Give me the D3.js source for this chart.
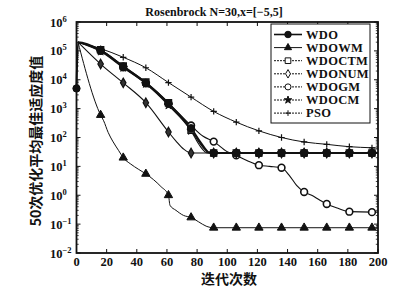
<!DOCTYPE html>
<html>
<head>
<meta charset="utf-8">
<script src="https://cdn.jsdelivr.net/npm/d3@7"></script>
<style>
  body { margin: 0; background: #fff; }
  svg { display: block; }
</style>
</head>
<body>
<div id="chart"></div>
<script>
// values: [iteration, mean best fitness]
const wdo = [[0, 5000], [1, 2.0e5], [16, 1.05e5], [31, 2.9e4], [46, 7.8e3], [61, 1.5e3], [76, 210], [83, 60], [88, 30],
  [91, 29], [106, 29], [121, 29], [136, 29], [151, 29], [166, 29], [181, 29], [196, 29], [200, 29]];
const wdowm = [[1, 2.0e5], [16, 600], [18, 380], [21, 150], [24, 75], [28, 35], [31, 20], [36, 12], [41, 8], [46, 5.5],
  [51, 3.5], [56, 2], [61, 1.0], [62, 0.45], [66, 0.3], [71, 0.2], [76, 0.17], [81, 0.12], [86, 0.085], [91, 0.075],
  [106, 0.075], [121, 0.075], [136, 0.075], [151, 0.075], [166, 0.075], [181, 0.075], [196, 0.075], [200, 0.075]];
const wdoctm = [[1, 2.0e5], [16, 1.1e5], [31, 3.0e4], [46, 8.3e3], [61, 1.6e3], [76, 180], [84, 45], [89, 29],
  [91, 29], [106, 29], [121, 29], [136, 29], [151, 29], [166, 29], [181, 29], [196, 29], [200, 29]];
const wdonum = [[1, 2.0e5], [16, 3.5e4], [31, 7.8e3], [46, 1.6e3], [61, 155], [66, 75], [71, 40], [76, 29],
  [91, 29], [106, 29], [121, 29], [136, 29], [151, 29], [166, 29], [181, 29], [196, 29], [200, 29]];
const wdogm = [[1, 2.0e5], [16, 1.0e5], [31, 2.7e4], [46, 7.5e3], [61, 1.5e3], [76, 260], [84, 110], [91, 72],
  [100, 32], [106, 24], [113, 16], [121, 11], [128, 10], [136, 9], [141, 5], [146, 2.2], [151, 1.3], [156, 1.0],
  [161, 0.7], [166, 0.5], [173, 0.36], [181, 0.27], [196, 0.26], [200, 0.26]];
const wdocm = [[1, 2.0e5], [16, 9.5e4], [31, 2.6e4], [46, 7.2e3], [61, 1.3e3], [76, 170], [82, 50], [87, 29],
  [91, 29], [106, 29], [121, 29], [136, 29], [151, 29], [166, 29], [181, 29], [196, 29], [200, 29]];
const pso = [[1, 2.0e5], [16, 1.2e5], [31, 6.0e4], [46, 2.6e4], [61, 8.0e3], [76, 2.5e3], [91, 800], [106, 340],
  [121, 170], [136, 100], [151, 70], [166, 58], [181, 48], [196, 44], [200, 43]];

const markerIters = [0, 16, 31, 46, 61, 76, 91, 106, 121, 136, 151, 166, 181, 196];
const seriesNames = ["WDO", "WDOWM", "WDOCTM", "WDONUM", "WDOGM", "WDOCM", "PSO"];
const xTicks = [0, 20, 40, 60, 80, 100, 120, 140, 160, 180, 200];
const yExps = [-2, -1, 0, 1, 2, 3, 4, 5, 6];

const W = 395, H = 292;
const margin = {top: 22, right: 17, bottom: 39, left: 76.5};
const ink = "#111";
const serif = "'Liberation Serif', 'DejaVu Serif', serif";
const cjk = "'Noto Sans CJK SC', sans-serif";

const plus = {draw(ctx, size) { const r = Math.sqrt(size) / 2;
  ctx.moveTo(-r, 0); ctx.lineTo(r, 0); ctx.moveTo(0, -r); ctx.lineTo(0, r); }};

const styles = {
  WDO:    {data: wdo,    width: 2,   sym: d3.symbolCircle,   size: 42, fill: ink,    stroke: ink, sw: 1},
  WDOWM:  {data: wdowm,  width: 1,   sym: d3.symbolTriangle, size: 30, fill: ink,    stroke: ink, sw: 1},
  WDOCTM: {data: wdoctm, width: 1.1, sym: d3.symbolSquare,   size: 40, fill: "#444", stroke: ink, sw: 1.2},
  WDONUM: {data: wdonum, width: 1.1, sym: d3.symbolDiamond,  size: 26, fill: "#333", stroke: ink, sw: 1.2},
  WDOGM:  {data: wdogm,  width: 1.1, sym: d3.symbolCircle,   size: 36, fill: "#fff", stroke: ink, sw: 1.6},
  WDOCM:  {data: wdocm,  width: 1.1, sym: d3.symbolStar,     size: 22, fill: ink,    stroke: ink, sw: 0.8},
  PSO:    {data: pso,    width: 1,   sym: plus,              size: 40, fill: "none", stroke: ink, sw: 1.2}
};

const svg = d3.select("#chart").append("svg").attr("width", W).attr("height", H);

const x = d3.scaleLinear().domain([0, 200]).range([margin.left, W - margin.right]);
const y = d3.scaleLog().domain([1e-2, 1e6]).range([H - margin.bottom, margin.top]);

const x0 = x.range()[0], x1 = x.range()[1], yb = y.range()[0], yt = y.range()[1];

// minor and major ticks, inward on all four sides
const ticks = svg.append("g").attr("stroke", ink);
xTicks.forEach(t => {
  ticks.append("line").attr("x1", x(t)).attr("x2", x(t)).attr("y1", yb).attr("y2", yb - 4).attr("stroke-width", 1);
  ticks.append("line").attr("x1", x(t)).attr("x2", x(t)).attr("y1", yt).attr("y2", yt + 4).attr("stroke-width", 1);
});
yExps.forEach(e => {
  const v = Math.pow(10, e);
  ticks.append("line").attr("x1", x0).attr("x2", x0 + 4).attr("y1", y(v)).attr("y2", y(v)).attr("stroke-width", 1);
  ticks.append("line").attr("x1", x1).attr("x2", x1 - 4).attr("y1", y(v)).attr("y2", y(v)).attr("stroke-width", 1);
  if (e < 6) for (let k = 2; k < 10; k++) {
    const yy = y(k * v);
    ticks.append("line").attr("x1", x0).attr("x2", x0 + 2.2).attr("y1", yy).attr("y2", yy).attr("stroke-width", 0.8);
    ticks.append("line").attr("x1", x1).attr("x2", x1 - 2.2).attr("y1", yy).attr("y2", yy).attr("stroke-width", 0.8);
  }
});

// lines
const line = d3.line().x(d => x(d[0])).y(d => y(d[1])).curve(d3.curveMonotoneX);
const order = ["PSO", "WDOGM", "WDOCM", "WDONUM", "WDOCTM", "WDOWM", "WDO"];
order.forEach(n => {
  const s = styles[n];
  svg.append("path").datum(s.data).attr("d", line)
    .attr("fill", "none").attr("stroke", ink).attr("stroke-width", s.width).attr("stroke-linejoin", "round");
});

// markers
order.forEach(n => {
  const s = styles[n];
  svg.append("g").selectAll("path")
    .data(s.data.filter(d => markerIters.includes(d[0])))
    .join("path")
    .attr("transform", d => `translate(${x(d[0])},${y(d[1])})`)
    .attr("d", d3.symbol().type(s.sym).size(s.size))
    .attr("fill", s.fill).attr("stroke", s.stroke).attr("stroke-width", s.sw);
});

// frame
svg.append("rect").attr("x", x0).attr("y", yt).attr("width", x1 - x0).attr("height", yb - yt)
  .attr("fill", "none").attr("stroke", ink).attr("stroke-width", 1.8);

// tick labels
svg.append("g").selectAll("text").data(xTicks).join("text")
  .attr("x", d => x(d)).attr("y", yb + 12.5)
  .attr("text-anchor", "middle").attr("font-family", serif).attr("font-size", 12.5).attr("font-weight", "bold")
  .attr("fill", ink).text(d => d);

const yl = svg.append("g").selectAll("text").data(yExps).join("text")
  .attr("x", 50).attr("y", d => y(Math.pow(10, d)) + 4.5)
  .attr("font-family", serif).attr("font-size", 12.5).attr("font-weight", "bold").attr("fill", ink);
yl.append("tspan").text("10");
yl.append("tspan").attr("dy", -5).attr("font-size", 8.5).text(d => d < 0 ? "\u2212" + (-d) : d);

// title and axis labels
svg.append("text").attr("x", 214).attr("y", 16).attr("text-anchor", "middle")
  .attr("font-family", serif).attr("font-size", 12).attr("font-weight", "bold").attr("fill", ink)
  .text("Rosenbrock  N=30,x=[\u22125,5]");

svg.append("text").attr("x", 229).attr("y", 284).attr("text-anchor", "middle")
  .attr("font-family", cjk).attr("font-size", 14).attr("font-weight", "bold").attr("fill", ink)
  .text("迭代次数");

svg.append("text").attr("transform", "translate(41,141) rotate(-90)").attr("text-anchor", "middle")
  .attr("font-family", cjk).attr("font-size", 14).attr("font-weight", "bold").attr("fill", ink)
  .text("50次优化平均最佳适应度值");

// legend
const lg = svg.append("g");
lg.append("rect").attr("x", 271).attr("y", 24).attr("width", 99).attr("height", 99)
  .attr("fill", "#fff").attr("stroke", ink).attr("stroke-width", 1);
seriesNames.forEach((n, i) => {
  const s = styles[n];
  const yy = 34.5 + i * 13.1;
  lg.append("line").attr("x1", 274).attr("x2", 302).attr("y1", yy).attr("y2", yy)
    .attr("stroke", ink).attr("stroke-width", n === "WDO" ? 1.6 : 1)
    .attr("stroke-dasharray", (n === "WDO" || n === "WDOWM") ? null : "2,1");
  const legendFill = (n === "WDOCTM" || n === "WDONUM") ? "#fff" : s.fill;
  lg.append("path").attr("transform", `translate(288,${yy})`)
    .attr("d", d3.symbol().type(s.sym).size(n === "WDOWM" ? 22 : s.size * 0.8))
    .attr("fill", legendFill).attr("stroke", ink).attr("stroke-width", 1);
  lg.append("text").attr("x", 306).attr("y", yy + 4.3)
    .attr("font-family", serif).attr("font-size", 12.5).attr("letter-spacing", 0.3)
    .attr("font-weight", "bold").attr("fill", ink)
    .text(n);
});
</script>
</body>
</html>
